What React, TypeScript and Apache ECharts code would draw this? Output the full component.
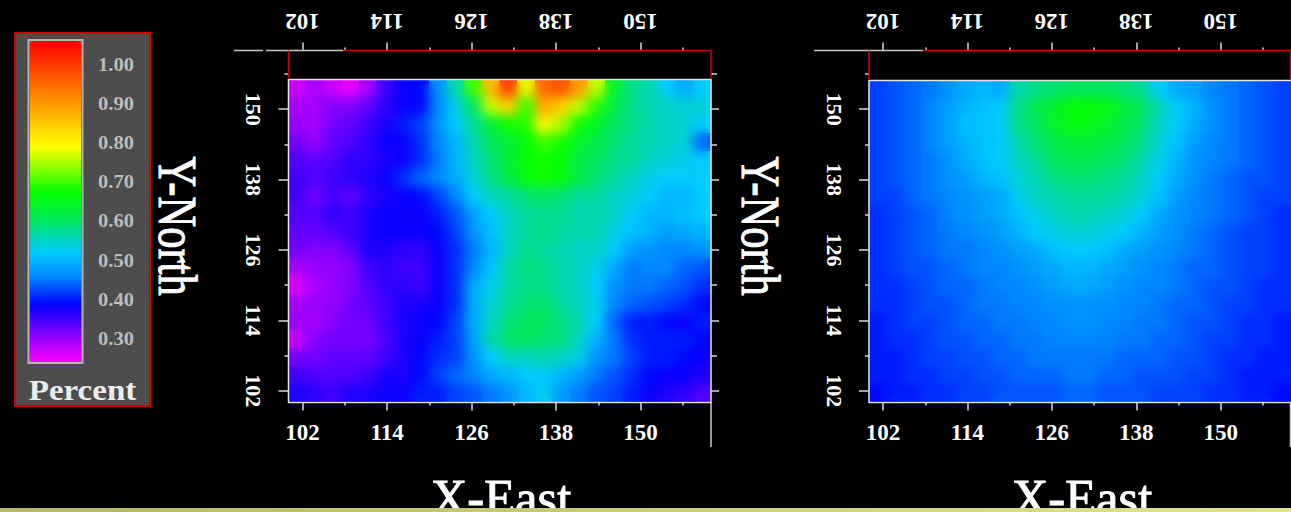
import React, { useEffect, useRef } from "react";
import * as echarts from "echarts";

const SERIF = "Liberation Serif";
const tickValues = [102, 114, 126, 138, 150];
const minorValues = [108, 120, 132, 144, 156];
const legendLabels = ["1.00", "0.90", "0.80", "0.70", "0.60", "0.50", "0.40", "0.30"];

const measuredRows: number[][] = [
  [.27,.29,.27,.25,.29,.35,.38,.39,.47,.56,.70,.86,1.0,.78,.95,.97,.90,.76,.64,.58,.56,.52,.49,.52],
  [.29,.29,.31,.31,.33,.36,.38,.39,.46,.53,.60,.76,.84,.70,.88,.84,.76,.69,.62,.58,.56,.55,.54,.54],
  [.30,.29,.32,.33,.35,.37,.40,.42,.47,.52,.57,.63,.68,.69,.80,.75,.68,.64,.60,.58,.56,.55,.54,.52],
  [.32,.30,.33,.34,.36,.38,.38,.41,.46,.50,.56,.60,.63,.67,.70,.68,.64,.62,.59,.57,.56,.55,.54,.44],
  [.34,.33,.34,.36,.36,.37,.38,.41,.45,.50,.55,.59,.63,.67,.68,.67,.62,.60,.58,.57,.55,.54,.53,.52],
  [.35,.34,.35,.36,.37,.38,.41,.44,.46,.49,.54,.58,.62,.66,.68,.66,.62,.59,.57,.55,.53,.52,.52,.52],
  [.35,.32,.35,.33,.36,.37,.38,.39,.42,.46,.52,.55,.57,.59,.60,.59,.57,.57,.55,.54,.52,.50,.50,.52],
  [.34,.34,.36,.35,.37,.38,.38,.38,.40,.43,.48,.52,.55,.57,.575,.575,.56,.56,.55,.52,.50,.50,.51,.52],
  [.33,.33,.34,.35,.37,.38,.38,.38,.39,.42,.47,.51,.55,.57,.58,.57,.56,.56,.53,.51,.50,.48,.49,.50],
  [.32,.31,.31,.33,.37,.37,.36,.36,.38,.41,.45,.50,.55,.575,.57,.56,.55,.55,.52,.48,.47,.46,.46,.47],
  [.29,.30,.30,.31,.35,.36,.35,.35,.38,.41,.46,.51,.565,.585,.58,.56,.55,.53,.49,.45,.46,.46,.44,.43],
  [.26,.29,.30,.31,.34,.36,.36,.35,.38,.41,.49,.53,.565,.58,.58,.56,.55,.52,.47,.45,.45,.44,.43,.41],
  [.29,.30,.30,.32,.33,.35,.37,.37,.38,.41,.49,.54,.57,.59,.595,.57,.55,.53,.46,.44,.43,.42,.41,.39],
  [.30,.29,.31,.32,.32,.35,.37,.38,.39,.42,.49,.55,.585,.605,.605,.58,.56,.52,.44,.40,.40,.39,.38,.40],
  [.27,.31,.32,.32,.32,.34,.37,.38,.40,.42,.48,.56,.595,.605,.59,.585,.55,.50,.45,.41,.40,.40,.40,.39],
  [.32,.32,.33,.33,.33,.35,.37,.39,.41,.42,.47,.52,.55,.55,.56,.55,.53,.47,.45,.42,.40,.40,.39,.38],
  [.35,.34,.34,.34,.35,.37,.37,.39,.42,.44,.46,.49,.50,.52,.52,.50,.48,.45,.43,.41,.39,.38,.38,.37],
  [.37,.36,.35,.37,.37,.38,.38,.40,.40,.42,.43,.45,.47,.50,.53,.48,.45,.43,.42,.40,.38,.37,.36,.34],
];

const modelRows: number[][] = [
  [.42,.43,.44,.45,.47,.49,.50,.49,.56,.58,.59,.60,.60,.60,.59,.57,.52,.49,.48,.46,.45,.44,.43,.42],
  [.42,.43,.44,.46,.48,.50,.51,.52,.58,.61,.64,.67,.67,.66,.63,.60,.56,.52,.50,.47,.45,.44,.43,.42],
  [.42,.43,.44,.46,.48,.51,.51,.52,.58,.60,.64,.66,.66,.64,.62,.59,.55,.52,.49,.47,.45,.44,.43,.42],
  [.42,.43,.44,.46,.48,.50,.51,.52,.56,.59,.61,.63,.63,.62,.60,.58,.54,.51,.48,.46,.45,.44,.43,.42],
  [.42,.43,.44,.45,.47,.49,.51,.52,.55,.57,.60,.61,.61,.60,.59,.56,.53,.50,.47,.46,.45,.44,.43,.42],
  [.42,.43,.44,.45,.47,.48,.50,.51,.54,.56,.58,.59,.59,.58,.57,.55,.52,.49,.47,.45,.44,.43,.43,.42],
  [.42,.42,.44,.45,.46,.47,.48,.49,.53,.55,.56,.57,.57,.57,.56,.54,.51,.48,.46,.45,.44,.43,.42,.42],
  [.41,.42,.43,.44,.46,.47,.48,.49,.51,.53,.55,.56,.56,.55,.54,.52,.49,.47,.46,.45,.44,.43,.42,.41],
  [.41,.42,.43,.44,.45,.46,.47,.48,.50,.52,.53,.54,.54,.53,.52,.50,.48,.47,.45,.44,.43,.42,.42,.41],
  [.41,.42,.43,.44,.45,.45,.46,.47,.48,.49,.51,.52,.52,.51,.49,.48,.47,.46,.45,.44,.43,.42,.42,.41],
  [.41,.42,.43,.43,.44,.45,.46,.46,.47,.48,.49,.50,.50,.49,.48,.47,.46,.45,.44,.44,.43,.42,.42,.41],
  [.41,.41,.42,.43,.44,.44,.45,.46,.46,.47,.48,.49,.49,.48,.47,.46,.46,.45,.44,.43,.43,.42,.41,.41],
  [.41,.41,.42,.43,.43,.44,.45,.45,.46,.46,.47,.47,.47,.47,.46,.46,.45,.44,.44,.43,.42,.42,.41,.41],
  [.40,.41,.42,.42,.43,.44,.44,.45,.45,.46,.46,.47,.47,.46,.46,.45,.45,.44,.43,.43,.42,.41,.41,.40],
  [.40,.41,.41,.42,.43,.43,.44,.44,.45,.45,.46,.46,.46,.46,.45,.45,.44,.44,.43,.42,.42,.41,.41,.40],
  [.40,.40,.41,.42,.42,.43,.43,.44,.44,.45,.45,.45,.45,.45,.44,.44,.44,.43,.43,.42,.41,.41,.40,.40],
  [.40,.40,.41,.41,.42,.42,.43,.43,.44,.44,.44,.45,.45,.44,.44,.43,.43,.43,.42,.42,.41,.40,.40,.40],
  [.39,.40,.40,.41,.41,.42,.42,.43,.43,.43,.43,.44,.44,.43,.43,.43,.42,.42,.42,.41,.41,.40,.40,.39],
];

const colorStops: [number, number[]][] = [
  [.24, [255, 0, 255]], [.313, [128, 0, 255]], [.386, [0, 0, 255]], [.453, [0, 128, 255]],
  [.52, [0, 204, 255]], [.56, [0, 216, 176]], [.60, [0, 232, 96]], [.673, [0, 255, 0]],
  [.73, [128, 255, 0]], [.79, [255, 255, 0]], [.925, [255, 128, 0]], [1.06, [255, 0, 0]],
];
const V_MIN = 0.24;
const V_MAX = 1.06;

function paletteAt(v: number): string {
  for (let i = 1; i < colorStops.length; i++) {
    const [v1, c1] = colorStops[i];
    if (v <= v1 + 1e-9) {
      const [v0, c0] = colorStops[i - 1];
      const t = (v - v0) / (v1 - v0);
      return `rgb(${c0.map((c, k) => Math.round(c + (c1[k] - c) * t)).join(",")})`;
    }
  }
  return "rgb(255,0,0)";
}
const palette: string[] = [];
for (let i = 0; i <= 82; i++) palette.push(paletteAt(V_MIN + i * 0.01));

const toCells = (rows: number[][]) => {
  const out: number[][] = [];
  rows.forEach((row, j) => row.forEach((v, i) => out.push([i, rows.length - 1 - j, v])));
  return out;
};

const AXIS = "#d8d8d8";
const RED = "#d40000";
const TOP = 50.5;
const HEAT_BOTTOM = 402.5;

function buildPanel(base: number, left: number, width: number, heatTop: number) {
  const heatGrid = { left, top: heatTop, width, height: HEAT_BOTTOM - heatTop };
  const axisGrid = { left, top: TOP, width, height: HEAT_BOTTOM - TOP };
  const g = base + 1;
  const valueAxis = (extra: any) => ({
    type: "value", gridIndex: g, min: 100, max: 160, splitLine: { show: false },
    axisLine: { show: false }, axisLabel: { show: false }, ...extra,
  });
  const tick = (length: number, customValues: number[]) => ({
    show: true, length, customValues, lineStyle: { color: AXIS, width: 1.5 },
  });
  const labelStyle = (fontSize: number) => ({ color: "#fff", fontFamily: SERIF, fontSize, fontWeight: "bold" as const });
  const cols = Array.from({ length: 24 }, (_, i) => String(i));
  const rows = Array.from({ length: 18 }, (_, i) => String(i));
  const xAxis = [
    { type: "category", gridIndex: base, data: cols, show: false },
    valueAxis({ position: "bottom", axisTick: tick(8, tickValues),
      axisLabel: { show: true, customValues: tickValues, margin: 18, ...labelStyle(23) } }),
    valueAxis({ position: "bottom", axisTick: tick(3, minorValues) }),
    valueAxis({ position: "top", axisTick: tick(8, tickValues),
      axisLabel: { show: true, customValues: tickValues, rotate: 180, margin: 18, ...labelStyle(23) } }),
    valueAxis({ position: "top", axisTick: tick(3, minorValues) }),
  ];
  const yAxis = [
    { type: "category", gridIndex: base, data: rows, show: false },
    valueAxis({ position: "left", axisTick: tick(10, tickValues),
      axisLabel: { show: true, customValues: tickValues, rotate: -90, margin: 24, ...labelStyle(22) } }),
    valueAxis({ position: "left", axisTick: tick(4, minorValues) }),
    valueAxis({ position: "right", axisTick: tick(8, tickValues) }),
    valueAxis({ position: "right", axisTick: tick(6, minorValues) }),
  ];
  return { grids: [heatGrid, axisGrid], xAxis, yAxis };
}

const line = (x1: number, y1: number, x2: number, y2: number, stroke: string, w = 1.5, z = 6) => ({
  type: "line", z, shape: { x1, y1, x2, y2 }, style: { stroke, lineWidth: w },
});

function buildOption() {
  const p1 = buildPanel(0, 288.5, 422.5, 79.5);
  const p2 = buildPanel(2, 869, 424, 80.5);
  const axisOffset = 5;
  const heatSeries = (axisIndex: number, rows: number[][]) => ({
    type: "heatmap", xAxisIndex: axisIndex, yAxisIndex: axisIndex, data: toCells(rows),
    progressive: 0, itemStyle: { borderWidth: 0 }, emphasis: { disabled: true },
  });
  const legendY = (i: number) => 65 + i * 39.1;
  const graphicElements: any[] = [
    { type: "rect", z: 0, shape: { x: 15, y: 33, width: 135, height: 373 },
      style: { fill: "#4d4d4d", stroke: RED, lineWidth: 2 } },
    { type: "rect", z: 0, shape: { x: 28.5, y: 40, width: 54, height: 323 },
      style: { fill: "#4d4d4d", stroke: "#b4b4b4", lineWidth: 2 } },
    ...legendLabels.map((t, i) => ({
      type: "text", z: 6, x: 134, y: legendY(i), scaleX: 1.08, scaleY: 0.95,
      style: { text: t, fill: "#bcbcbc", font: `bold 19px "${SERIF}"`, textAlign: "right", textVerticalAlign: "middle" },
    })),
    { type: "text", z: 6, x: 82.5, y: 390, scaleX: 1.18, scaleY: 1.08,
      style: { text: "Percent", fill: "#ececec", font: `bold 28px "${SERIF}"`, textAlign: "center", textVerticalAlign: "middle" } },
    ...[177, 760].map((x) => ({
      type: "text", z: 6, x, y: 226, rotation: -Math.PI / 2, scaleX: 1, scaleY: 1.27,
      style: { text: "Y-North", fill: "#fff", stroke: "#fff", lineWidth: 0.8, font: `42.5px "${SERIF}"`, textAlign: "center", textVerticalAlign: "middle" },
    })),
    ...[501, 1082].map((x) => ({
      type: "text", z: 6, x, y: 498, scaleX: 1.19, scaleY: 1.25,
      style: { text: "X-East", fill: "#fff", stroke: "#fff", lineWidth: 0.8, font: `42.5px "${SERIF}"`, textAlign: "center", textVerticalAlign: "middle" },
    })),
    { type: "rect", z: 5, shape: { x: 288.5, y: 79.5, width: 422.5, height: 323 },
      style: { fill: "none", stroke: "#e4e4e4", lineWidth: 1.5 } },
    { type: "rect", z: 5, shape: { x: 869, y: 80.5, width: 424, height: 322 },
      style: { fill: "none", stroke: "#e4e4e4", lineWidth: 1.5 } },
    line(234, 50.5, 263, 50.5, "#c8c8c8"),
    line(266, 50.5, 343, 50.5, "#c8c8c8"),
    line(343, 50.5, 711, 50.5, RED),
    line(288.5, 50.5, 288.5, 79, RED),
    line(711, 50.5, 711, 79, RED),
    line(711, 402.5, 711, 447, "#c8c8c8"),
    line(814, 50.5, 923, 50.5, "#c8c8c8"),
    line(923, 50.5, 1291, 50.5, RED),
    line(869, 50.5, 869, 80, RED),
    line(1290.5, 50.5, 1290.5, 80, RED),
    line(1290.5, 402.5, 1290.5, 447, "#c8c8c8"),
    { type: "rect", z: 20, shape: { x: 0, y: 508, width: 1291, height: 4 },
      style: { fill: new echarts.graphic.LinearGradient(0, 0, 1, 0, [
        { offset: 0, color: "#b5b56b" }, { offset: 1, color: "#e2e292" },
      ]) } },
  ];
  return {
    animation: false,
    backgroundColor: "#000",
    grid: [...p1.grids, ...p2.grids],
    xAxis: [...p1.xAxis, ...p2.xAxis],
    yAxis: [...p1.yAxis, ...p2.yAxis],
    visualMap: {
      type: "continuous", min: V_MIN, max: V_MAX, calculable: false, show: true,
      left: 30, top: 41, itemWidth: 51, itemHeight: 321, padding: 0, hoverLink: false,
      seriesIndex: [0, 1], inRange: { color: palette },
    },
    series: [heatSeries(0, measuredRows), heatSeries(axisOffset, modelRows)],
    graphic: { elements: graphicElements },
  };
}

const softening = (left: number, top: number, width: number, height: number): React.CSSProperties => ({
  position: "absolute", left, top, width, height, backdropFilter: "blur(6px)", pointerEvents: "none",
});

export default function App() {
  const ref = useRef<HTMLDivElement>(null);
  useEffect(() => {
    document.body.style.margin = "0";
    document.body.style.background = "#000";
    const chart = echarts.init(ref.current!, null, { renderer: "svg" });
    chart.setOption(buildOption() as any);
    return () => chart.dispose();
  }, []);
  return (
    <div style={{ position: "relative", width: 1291, height: 512, overflow: "hidden" }}>
      <div ref={ref} style={{ width: 1291, height: 512 }} />
      <div style={softening(290, 81, 420, 321)} />
      <div style={softening(870, 82, 421, 320)} />
    </div>
  );
}
